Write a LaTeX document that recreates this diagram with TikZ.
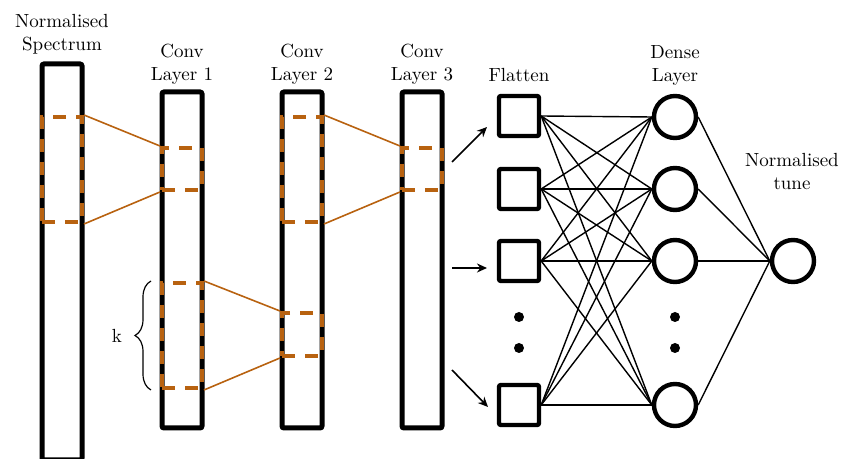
\documentclass[tikz,border=0pt]{standalone}
\usepackage{tikz}
\usepackage{xcolor}
\usetikzlibrary{shapes,arrows,arrows.meta,positioning,decorations.pathreplacing}
\definecolor{kernelorange}{RGB}{184,98,16}

\begin{document}
\begin{tikzpicture}[
    x=0.5pt, y=-0.5pt,
    font=\fontsize{9.5}{11.5}\selectfont,
    layer/.style={rectangle, draw, line width=2.5pt, rounded corners=1pt, minimum width=20pt, inner sep=0pt},
    window/.style={rectangle, draw=kernelorange, dash pattern=on 6.5pt off 5pt, line width=2pt, minimum width=20pt, inner sep=0pt},
    flat/.style={rectangle, draw, line width=2.2pt, rounded corners=1pt, minimum size=20pt, inner sep=0pt},
    neuron/.style={circle, draw, line width=2.2pt, minimum size=21pt, inner sep=0pt},
    dot/.style={circle, fill, minimum size=5pt, inner sep=0pt},
    link/.style={line width=0.7pt},
    slide/.style={draw=kernelorange, line width=0.8pt},
    arrow/.style={-{Stealth[length=5pt, width=4.5pt]}, line width=0.8pt}
]
\useasboundingbox (0,0) rectangle (843,459);

% Layers
\node[layer, minimum height=198pt] (spec) at (62,262) {};
\node[layer, minimum height=168pt] (c1) at (182,260) {};
\node[layer, minimum height=168pt] (c2) at (302,260) {};
\node[layer, minimum height=168pt] (c3) at (422,260) {};

% Labels
\node[align=center] (lspec) at (62,34) {Normalised\\Spectrum};
\node[align=center] (lc1) at (182,64) {Conv\\Layer 1};
\node[align=center] (lc2) at (302,64) {Conv\\Layer 2};
\node[align=center] (lc3) at (422,64) {Conv\\Layer 3};
\node (lflat) at (519,75) {Flatten};
\node[align=center] (ldense) at (675,65) {Dense\\Layer};
\node[align=center] (lout) at (792,172) {Normalised\\tune};

% Kernel windows
\node[window, minimum height=52.5pt] (w0) at (62,169.5) {};
\node[window, minimum height=21pt] (w1a) at (182,169) {};
\node[window, minimum height=52.5pt] (w1b) at (182,335.5) {};
\node[window, minimum height=52.5pt] (w2a) at (302,169.5) {};
\node[window, minimum height=21.5pt] (w2b) at (302,334.5) {};
\node[window, minimum height=21pt] (w3) at (422,169) {};

\draw[slide] (w0.north east) -- (w1a.north west);
\draw[slide] (w0.south east) -- (w1a.south west);
\draw[slide] (w1b.north east) -- (w2b.north west);
\draw[slide] (w1b.south east) -- (w2b.south west);
\draw[slide] (w2a.north east) -- (w3.north west);
\draw[slide] (w2a.south east) -- (w3.south west);

% Kernel size
\draw[decorate, decoration={brace, amplitude=8pt}, line width=0.6pt]
    ([xshift=-4.5pt]w1b.south west) -- ([xshift=-4.5pt]w1b.north west);
\node (k) at (117,336) {k};

% Flatten
\node[flat] (f1) at (519,116) {};
\node[flat] (f2) at (519,189) {};
\node[flat] (f3) at (519,261) {};
\node[flat] (f4) at (519,405) {};
\node[dot] (fd1) at (519,317) {};
\node[dot] (fd2) at (519,348) {};

% Dense
\node[neuron] (d1) at (675,117) {};
\node[neuron] (d2) at (675,189) {};
\node[neuron] (d3) at (675,261) {};
\node[neuron] (d4) at (675,405) {};
\node[dot] (dd1) at (675,317) {};
\node[dot] (dd2) at (675,348) {};

\node[neuron] (out) at (793,261) {};

\foreach \i in {1,...,4}
  \foreach \j in {1,...,4}
    \draw[link] (f\i.east) -- (d\j.west);
\foreach \j in {1,...,4}
  \draw[link] (d\j.east) -- (out.west);

% Arrows
\coordinate (a1) at (452,162);
\coordinate (b1) at (487,127);
\coordinate (a2) at (452,268);
\coordinate (b2) at (487,268);
\coordinate (a3) at (452,370);
\coordinate (b3) at (488,407);
\draw[arrow] (a1) -- (b1);
\draw[arrow] (a2) -- (b2);
\draw[arrow] (a3) -- (b3);

\end{tikzpicture}
\end{document}
